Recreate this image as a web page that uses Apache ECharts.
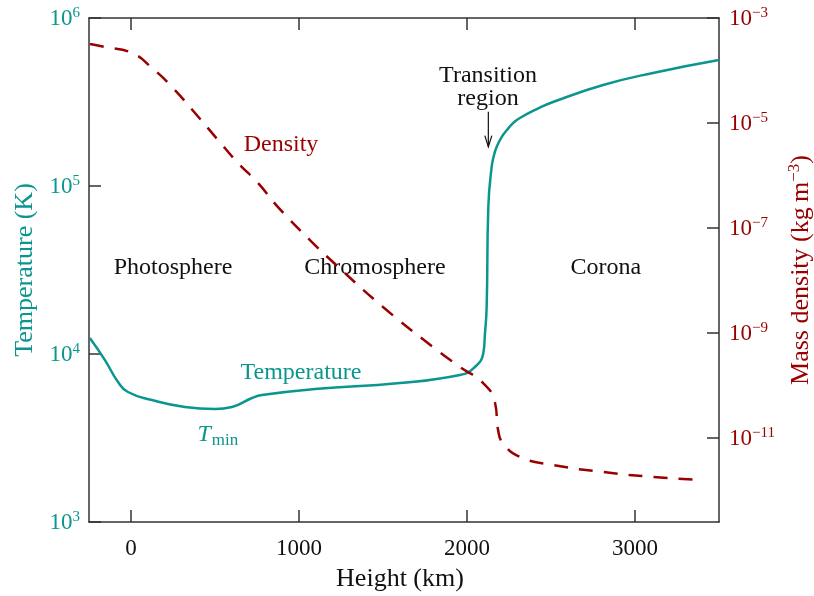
<!DOCTYPE html>
<html>
<head>
<meta charset="utf-8">
<title>Solar atmosphere: temperature and density versus height</title>
<script src="https://cdn.jsdelivr.net/npm/echarts@6/dist/echarts.min.js"></script>
<style>
  html, body { margin: 0; padding: 0; background: #ffffff; }
  #chart { width: 814px; height: 596px; }
</style>
</head>
<body>
<div id="chart"></div>
<script>
// Temperature profile: height above the photosphere (km) and temperature (K)
const tempHeightKm = [-245, -155, -77, -18, 125, 321, 500, 601, 720, 780, 1095, 1601, 1958, 2038, 2097, 2107, 2117, 2127, 2147, 2161, 2177, 2207, 2238, 2274, 2315, 2415, 2512, 2810, 3107, 3500];
const temperatureK = [12450, 9200, 6810, 5940, 5320, 4840, 4710, 4840, 5470, 5700, 6190, 6710, 7500, 8220, 10090, 13270, 19050, 75300, 130300, 153000, 171400, 196000, 215300, 237000, 254100, 287000, 316200, 399000, 471000, 562000];

// Mass density profile: height (km) and density (kg m^-3)
const densHeightKm = [-244, -155, 6, 125, 244, 381, 518, 637, 756, 875, 1065, 1202, 1500, 1798, 1958, 2095, 2167, 2185, 2214, 2315, 2512, 2810, 3107, 3405];
const densityKgM3 = [3.2e-4, 2.8e-4, 2.15e-4, 1.12e-4, 4.85e-5, 1.55e-5, 4.74e-6, 1.73e-6, 7.2e-7, 2.5e-7, 5.9e-8, 2.25e-8, 3.13e-9, 5.4e-10, 2.25e-10, 1.12e-10, 4.65e-11, 1.42e-11, 8.0e-12, 4.35e-12, 3.06e-12, 2.25e-12, 1.81e-12, 1.58e-12];

// Tick positions (height in km, decades for the two log scales)
const heightTicks = [0, 1000, 2000, 3000];
const tempDecades = [3, 4, 5, 6];
const densDecades = [-11, -9, -7, -5, -3];

const TEAL = '#0a968f';
const RED = '#990000';
const INK = '#111111';
const AXIS = '#333333';
const SERIF = '"Liberation Serif", "Times New Roman", "DejaVu Serif", serif';

function powerRich(color) {
  return {
    b: { fontFamily: SERIF, fontSize: 23, color: color, lineHeight: 24, verticalAlign: 'bottom' },
    s: { fontFamily: SERIF, fontSize: 15, color: color, lineHeight: 14, verticalAlign: 'top' }
  };
}
function powerLabel(v) {
  const e = Math.round(v);
  return '{b|10}{s|' + String(e).replace('-', '\u2212') + '}';
}

const axisLine = { show: true, onZero: false, lineStyle: { color: AXIS, width: 1.5 } };
const tickStyle = { color: AXIS, width: 1.5 };

const chart = echarts.init(document.getElementById('chart'), null, { renderer: 'canvas' });

chart.setOption({
  backgroundColor: '#ffffff',
  animation: false,
  grid: { left: 89, right: 95, top: 18, bottom: 74, containLabel: false, outerBoundsMode: 'none' },
  xAxis: [
    {
      type: 'value', min: -250, max: 3500, position: 'bottom',
      axisLine: axisLine,
      axisTick: { inside: true, length: 12, customValues: heightTicks, lineStyle: tickStyle },
      axisLabel: { customValues: heightTicks, formatter: v => String(v), fontFamily: SERIF, fontSize: 23, color: INK, margin: 15 },
      splitLine: { show: false },
      name: 'Height (km)', nameLocation: 'middle', nameGap: 44,
      nameTextStyle: { fontFamily: SERIF, fontSize: 26, color: INK, padding: [0, 8, 0, 0] }
    },
    {
      type: 'value', min: -250, max: 3500, position: 'top',
      axisLine: axisLine,
      axisTick: { inside: true, length: 12, customValues: heightTicks, lineStyle: tickStyle },
      axisLabel: { show: false },
      splitLine: { show: false }
    }
  ],
  yAxis: [
    {
      type: 'value', min: 3, max: 6, position: 'left',
      axisLine: axisLine,
      axisTick: { inside: true, length: 12, customValues: tempDecades, lineStyle: tickStyle },
      axisLabel: { customValues: tempDecades, formatter: powerLabel, margin: 9, rich: powerRich(TEAL) },
      splitLine: { show: false },
      name: 'Temperature (K)', nameLocation: 'middle', nameRotate: 90, nameGap: 48,
      nameTextStyle: { fontFamily: SERIF, fontSize: 26, color: TEAL }
    },
    {
      type: 'value', min: -12.6, max: -3, position: 'right',
      axisLine: axisLine,
      axisTick: { inside: true, length: 12, customValues: densDecades, lineStyle: tickStyle },
      axisLabel: { customValues: densDecades, formatter: powerLabel, margin: 10, rich: powerRich(RED) },
      splitLine: { show: false },
      name: 'Mass density (kg\u2009m{s|\u22123})', nameLocation: 'middle', nameRotate: 90, nameGap: 64,
      nameTextStyle: {
        fontFamily: SERIF, fontSize: 26, color: RED, lineHeight: 30, verticalAlign: 'bottom',
        rich: { s: { fontFamily: SERIF, fontSize: 17, color: RED, lineHeight: 16, verticalAlign: 'top' } }
      }
    }
  ],
  series: [
    {
      name: 'Temperature', type: 'line', xAxisIndex: 0, yAxisIndex: 0,
      data: tempHeightKm.map((h, i) => [h, Math.log10(temperatureK[i])]),
      showSymbol: false, smooth: 0.5, silent: true, z: 3,
      lineStyle: { color: TEAL, width: 2.5 }
    },
    {
      name: 'Density', type: 'line', xAxisIndex: 0, yAxisIndex: 1,
      data: densHeightKm.map((h, i) => [h, Math.log10(densityKgM3[i])]),
      showSymbol: false, smooth: 0.5, silent: true, z: 4,
      lineStyle: { color: RED, width: 2.5, type: [14, 11], cap: 'butt' }
    }
  ]
});

// Annotations placed in data units (height km, log10 temperature) on the left scale
const regionLabels = [
  { text: 'Photosphere', at: [250, 4.512], color: INK },
  { text: 'Chromosphere', at: [1452, 4.512], color: INK },
  { text: 'Corona', at: [2827, 4.512], color: INK },
  { text: 'Transition', at: [2125, 5.655], color: INK },
  { text: 'region', at: [2125, 5.52], color: INK },
  { text: 'Density', at: [893, 5.245], color: RED },
  { text: 'Temperature', at: [1012, 3.889], color: TEAL }
];
const arrowFrom = [2127, 5.442];
const arrowTo = [2127, 5.234];
const tminAt = [475, 3.52];

function px(p) { return chart.convertToPixel({ xAxisIndex: 0, yAxisIndex: 0 }, p); }

const graphics = regionLabels.map(l => {
  const p = px(l.at);
  return {
    type: 'text', x: p[0], y: p[1], silent: true,
    style: { text: l.text, fontFamily: SERIF, fontSize: 24, fill: l.color, align: 'center', verticalAlign: 'middle' }
  };
});

const a0 = px(arrowFrom), a1 = px(arrowTo);
graphics.push({
  type: 'line', silent: true,
  shape: { x1: a0[0], y1: a0[1], x2: a1[0], y2: a1[1] },
  style: { stroke: INK, lineWidth: 1.2 }
});
graphics.push({
  type: 'polyline', silent: true,
  shape: { points: [[a1[0] - 3.5, a1[1] - 11], [a1[0], a1[1]], [a1[0] + 3.5, a1[1] - 11]] },
  style: { stroke: INK, lineWidth: 1.2, fill: null }
});

const t = px(tminAt);
graphics.push({
  type: 'text', x: t[0], y: t[1], silent: true,
  style: { text: 'T', fontFamily: SERIF, fontStyle: 'italic', fontSize: 24, fill: TEAL, align: 'right', verticalAlign: 'middle' }
});
graphics.push({
  type: 'text', x: t[0] + 1, y: t[1] + 6, silent: true,
  style: { text: 'min', fontFamily: SERIF, fontSize: 17, fill: TEAL, align: 'left', verticalAlign: 'middle' }
});

chart.setOption({ graphic: graphics });
</script>
</body>
</html>
